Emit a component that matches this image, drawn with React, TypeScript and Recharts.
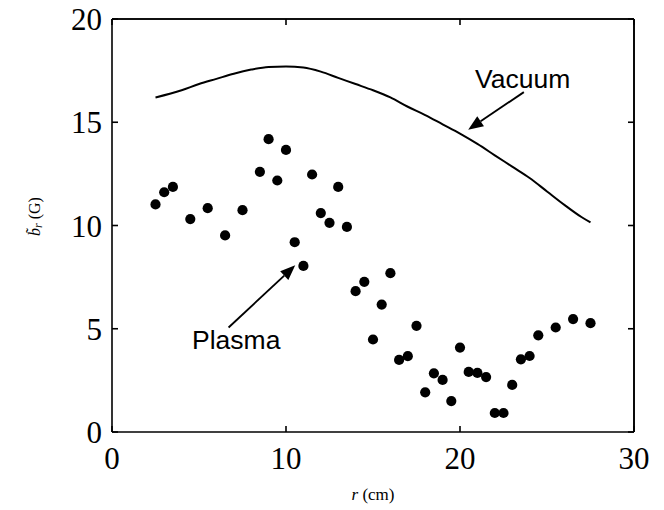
import React from "react";
import { ComposedChart, Line, Scatter, XAxis, YAxis, ReferenceLine, ReferenceDot } from "recharts";

// r (cm) ticks and b_r (G) ticks
const rTicks = [0, 10, 20, 30];
const bTicks = [0, 5, 10, 15, 20];

// measured points, plasma
const plasmaR = [2.5, 3, 3.5, 4.5, 5.5, 6.5, 7.5, 8.5, 9, 9.5, 10, 10.5, 11, 11.5, 12, 12.5, 13, 13.5, 14, 14.5, 15, 15.5, 16, 16.5, 17, 17.5, 18, 18.5, 19, 19.5, 20, 20.5, 21, 21.5, 22, 22.5, 23, 23.5, 24, 24.5, 25.5, 26.5, 27.5];
const plasmaB = [11.02, 11.61, 11.87, 10.31, 10.84, 9.52, 10.74, 12.6, 14.18, 12.18, 13.66, 9.19, 8.04, 12.47, 10.6, 10.13, 11.87, 9.93, 6.82, 7.27, 4.48, 6.17, 7.69, 3.49, 3.67, 5.14, 1.92, 2.84, 2.52, 1.5, 4.09, 2.91, 2.86, 2.66, 0.92, 0.92, 2.28, 3.52, 3.68, 4.68, 5.06, 5.47, 5.27];

// vacuum curve
const vacuumR = [2.5, 4, 5, 6, 7, 8, 9, 10, 11, 12, 13, 14, 15, 16, 17, 18, 19, 20, 21, 22, 23, 24, 25, 26, 27, 27.5];
const vacuumB = [16.2, 16.55, 16.85, 17.1, 17.35, 17.55, 17.68, 17.7, 17.65, 17.45, 17.15, 16.85, 16.55, 16.2, 15.75, 15.35, 14.9, 14.45, 13.95, 13.4, 12.85, 12.3, 11.65, 11.0, 10.4, 10.15];

// annotations (tail -> head), text anchor point
const vacuumArrow = [{ x: 23.67, y: 16.46 }, { x: 20.47, y: 14.64 }];
const vacuumText = { x: 23.6, y: 17.11, text: "Vacuum" };
const plasmaArrow = [{ x: 6.7, y: 5.06 }, { x: 10.53, y: 8.07 }];
const plasmaText = { x: 7.14, y: 4.44, text: "Plasma" };

const plasma = plasmaR.map((r, i) => ({ r, b: plasmaB[i] }));
const vacuum = vacuumR.map((r, i) => ({ r, b: vacuumB[i] }));

const serif = "'Liberation Serif', 'Times New Roman', serif";
const sans = "'Liberation Sans', Arial, sans-serif";

const Arrow = (p: any) => {
  const { x1, y1, x2, y2 } = p;
  const dx = x2 - x1;
  const dy = y2 - y1;
  const len = Math.sqrt(dx * dx + dy * dy) || 1;
  const ux = dx / len;
  const uy = dy / len;
  const hl = 15;
  const hw = 6;
  const bx = x2 - ux * hl;
  const by = y2 - uy * hl;
  const pts = `${x2},${y2} ${bx - uy * hw},${by + ux * hw} ${bx + uy * hw},${by - ux * hw}`;
  return (
    <g>
      <line x1={x1} y1={y1} x2={bx} y2={by} stroke="#000" strokeWidth={1.9} />
      <polygon points={pts} fill="#000" />
    </g>
  );
};

const labelShape = (text: string) => (p: any) => (
  <text x={p.cx} y={p.cy} textAnchor="middle" dominantBaseline="central" fontFamily={sans} fontSize={26.5} fill="#000">
    {text}
  </text>
);

const Dot = (p: any) => <circle cx={p.cx} cy={p.cy} r={5.1} fill="#000" />;

const tickStyle = { fontSize: 31, fontFamily: serif, fill: "#000" };
const blank = () => "";

export default function App() {
  return (
    <div style={{ position: "absolute", left: 0, top: 0, background: "#fff" }}>
      <ComposedChart width={664} height={510} margin={{ top: 18, right: 29, bottom: 48, left: 52 }}>
        <XAxis
          type="number"
          dataKey="r"
          domain={[0, 30]}
          ticks={rTicks}
          allowDataOverflow
          height={30}
          tickSize={-6}
          tickMargin={21}
          tick={tickStyle}
          stroke="#000"
          strokeWidth={1.6}
          label={{
            content: (p: any) => {
              const vb = p.viewBox;
              return (
                <text x={vb.x + vb.width / 2} y={494} textAnchor="middle" dominantBaseline="central" fontFamily={serif} fontSize={17} fill="#000">
                  <tspan fontStyle="italic">r</tspan> (cm)
                </text>
              );
            },
          }}
        />
        <XAxis
          xAxisId="top"
          orientation="top"
          type="number"
          dataKey="r"
          domain={[0, 30]}
          ticks={rTicks}
          allowDataOverflow
          height={1}
          tickSize={-6}
          tickFormatter={blank}
          stroke="#000"
          strokeWidth={1.6}
        />
        <YAxis
          type="number"
          domain={[0, 20]}
          ticks={bTicks}
          width={60}
          tickSize={-6}
          tickMargin={16}
          tick={tickStyle}
          stroke="#000"
          strokeWidth={1.6}
          label={{
            content: (p: any) => {
              const vb = p.viewBox;
              const cy = vb.y + vb.height / 2 - 9;
              return (
                <text x={34} y={cy} transform={`rotate(-90 34 ${cy})`} textAnchor="middle" dominantBaseline="central" fontFamily={serif} fontSize={16} fill="#000">
                  <tspan fontStyle="italic">{"b\u0303"}</tspan>
                  <tspan fontStyle="italic" fontSize={12} dy={4}>r</tspan>
                  <tspan dy={-4}> (G)</tspan>
                </text>
              );
            },
          }}
        />
        <YAxis
          yAxisId="right"
          orientation="right"
          type="number"
          domain={[0, 20]}
          ticks={bTicks}
          allowDataOverflow
          width={1}
          tickSize={-6}
          tickFormatter={blank}
          stroke="#000"
          strokeWidth={1.6}
        />
        {/* box frame on top and right */}
        <ReferenceLine y={20} stroke="#000" strokeWidth={1.6} ifOverflow="visible" />
        <ReferenceLine x={30} stroke="#000" strokeWidth={1.6} ifOverflow="visible" />
        {/* invisible series so the top/right axes are drawn */}
        <Line
          data={vacuum}
          xAxisId="top"
          yAxisId="right"
          dataKey="b"
          stroke="none"
          dot={false}
          activeDot={false}
          legendType="none"
          isAnimationActive={false}
        />
        <Line
          data={vacuum}
          dataKey="b"
          type="monotone"
          stroke="#000"
          strokeWidth={2}
          dot={false}
          activeDot={false}
          isAnimationActive={false}
        />
        <Scatter data={plasma} dataKey="b" shape={Dot} isAnimationActive={false} />
        <ReferenceLine segment={vacuumArrow} shape={Arrow} ifOverflow="visible" />
        <ReferenceLine segment={plasmaArrow} shape={Arrow} ifOverflow="visible" />
        <ReferenceDot x={vacuumText.x} y={vacuumText.y} r={0} shape={labelShape(vacuumText.text)} ifOverflow="visible" />
        <ReferenceDot x={plasmaText.x} y={plasmaText.y} r={0} shape={labelShape(plasmaText.text)} ifOverflow="visible" />
      </ComposedChart>
    </div>
  );
}
